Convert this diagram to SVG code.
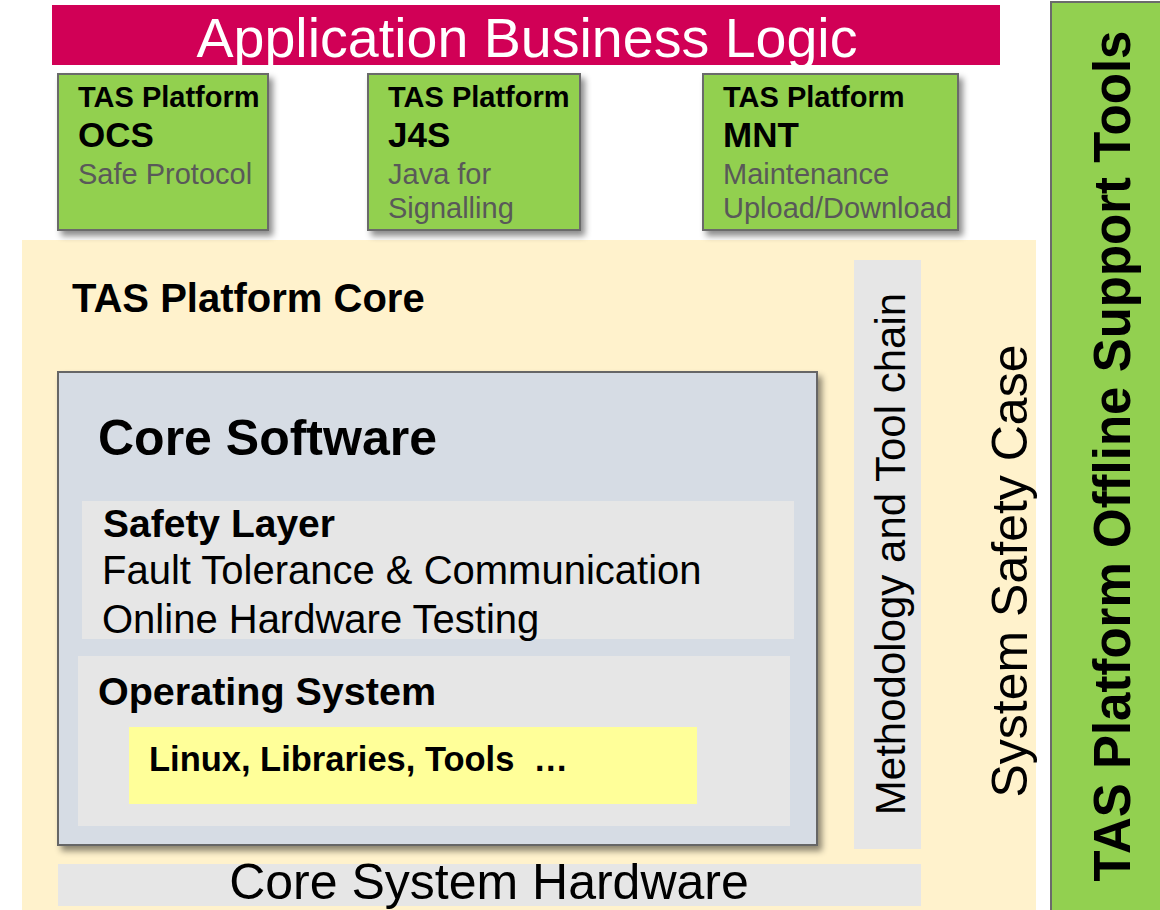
<svg xmlns="http://www.w3.org/2000/svg" width="1160" height="910" viewBox="0 0 1160 910">
<defs>
<filter id="sh" x="-10%" y="-10%" width="130%" height="130%">
<feDropShadow dx="4" dy="5" stdDeviation="3" flood-color="#000" flood-opacity="0.45"/>
</filter>
<style>
text{font-family:"Liberation Sans",Arial,sans-serif;fill:#000}
.b{font-weight:bold}
.g{fill:#595959}
.green{fill:#92D050;stroke:#6b6b6b;stroke-width:2}
.lg{fill:#E6E6E6}
.t29{font-size:29px}
.t35{font-size:35px}
</style>
</defs>
<rect width="1160" height="910" fill="#fff"/>

<g id="core-platform">
<rect x="22" y="240" width="1014" height="670" fill="#FFF2CC"/>
<text class="b" x="72" y="312" font-size="40">TAS Platform Core</text>
</g>

<g id="safety-case">
<text transform="translate(1027,571) rotate(-90)" text-anchor="middle" font-size="50">System Safety Case</text>
</g>

<g id="methodology">
<rect x="854" y="260" width="67" height="589" class="lg"/>
<text transform="translate(905,554) rotate(-90)" text-anchor="middle" font-size="42">Methodology and Tool chain</text>
</g>

<g id="hardware">
<rect x="58" y="864" width="863" height="42" class="lg"/>
<text x="489" y="899" text-anchor="middle" font-size="50">Core System Hardware</text>
</g>

<g id="core-software">
<rect x="58" y="372" width="759" height="473" fill="#D6DCE4" stroke="#666" stroke-width="2" filter="url(#sh)"/>
<text class="b" x="98" y="455" font-size="50">Core Software</text>
</g>

<g id="safety-layer">
<rect x="82" y="501" width="712" height="138" class="lg"/>
<text class="b" x="103" y="537" font-size="39">Safety Layer</text>
<text x="102" y="584" font-size="40">Fault Tolerance &amp; Communication</text>
<text x="102" y="633" font-size="40">Online Hardware Testing</text>
</g>

<g id="operating-system">
<rect x="78" y="656" width="712" height="170" class="lg"/>
<text class="b" x="98" y="705" font-size="39.5">Operating System</text>
</g>

<g id="linux">
<rect x="129" y="727" width="568" height="77" fill="#FFFF99"/>
<text class="b" x="149" y="771" font-size="34.5" xml:space="preserve" textLength="419" lengthAdjust="spacingAndGlyphs">Linux, Libraries, Tools  …</text>
</g>

<g id="app-logic">
<rect x="52" y="5" width="948" height="60" fill="#D10056"/>
<text x="527" y="57" text-anchor="middle" font-size="56" style="fill:#fff" textLength="661" lengthAdjust="spacingAndGlyphs">Application Business Logic</text>
</g>

<g id="ocs">
<rect x="58" y="74" width="210" height="156" class="green" filter="url(#sh)"/>
<text class="b t29" x="78" y="107">TAS Platform</text>
<text class="b t35" x="78" y="147">OCS</text>
<text class="g t29" x="78" y="184">Safe Protocol</text>
</g>

<g id="j4s">
<rect x="368" y="74" width="212" height="156" class="green" filter="url(#sh)"/>
<text class="b t29" x="388" y="107">TAS Platform</text>
<text class="b t35" x="388" y="147">J4S</text>
<text class="g t29" x="388" y="184">Java for</text>
<text class="g t29" x="388" y="218">Signalling</text>
</g>

<g id="mnt">
<rect x="703" y="74" width="255" height="156" class="green" filter="url(#sh)"/>
<text class="b t29" x="723" y="107">TAS Platform</text>
<text class="b t35" x="723" y="147">MNT</text>
<text class="g t29" x="723" y="184">Maintenance</text>
<text class="g t29" x="723" y="218">Upload/Download</text>
</g>

<g id="offline-tools">
<rect x="1051" y="2" width="118" height="920" class="green"/>
<text class="b" transform="translate(1130,456) rotate(-90)" text-anchor="middle" font-size="51">TAS Platform Offline Support Tools</text>
</g>

<g id="connectors"></g>
</svg>
